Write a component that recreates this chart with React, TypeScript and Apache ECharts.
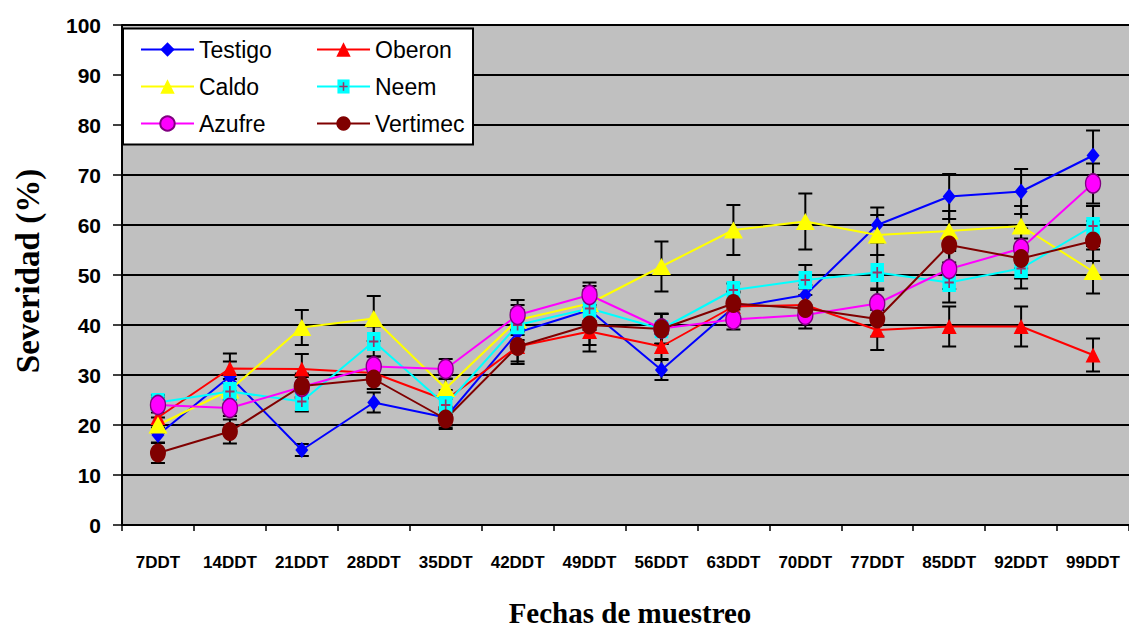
import React, { useEffect, useRef } from "react";
import * as echarts from "echarts";

const categories = ["7DDT", "14DDT", "21DDT", "28DDT", "35DDT", "42DDT", "49DDT", "56DDT", "63DDT", "70DDT", "77DDT", "85DDT", "92DDT", "99DDT"];
const yTicks = [0, 10, 20, 30, 40, 50, 60, 70, 80, 90, 100];

const testigo = [18, 29.7, 15, 24.5, 21.5, 38.5, 43, 31, 43.5, 46, 60, 65.7, 66.7, 73.9];
const oberon = [21.5, 31.3, 31.2, 30.4, 25, 35.7, 38.7, 35.7, 43.7, 44, 39, 39.7, 39.7, 34];
const caldo = [20, 27, 39.5, 41.3, 27.3, 41, 44.3, 51.7, 59, 60.7, 58, 58.8, 59.8, 50.7];
const neem = [24.5, 26.7, 24.7, 36.7, 24, 40, 43.3, 39.2, 47, 49, 50.5, 48.5, 51.3, 59.8];
const azufre = [24, 23.4, 27.6, 31.7, 31.2, 42, 46, 39.3, 41.1, 42, 44.3, 51.2, 55.3, 68.3];
const vertimec = [14.4, 18.7, 27.8, 29.2, 21.2, 35.7, 40, 39.2, 44.3, 43.3, 41.2, 56, 53.3, 56.8];

const errTestigo = [1.5, 3, 1.2, 2, 2, 3, 4, 2, 3, 4, 3.5, 4.5, 4.5, 5];
const errOberon = [1.5, 3, 3, 2, 2, 3, 4, 2.5, 3, 4, 4, 4, 4, 3.3];
const errCaldo = [1.5, 3, 3.5, 4.5, 2, 3, 3.5, 5, 5, 5.6, 4, 4, 4, 4.4];
const errNeem = [1.5, 2.5, 2, 3, 2, 3, 3, 3, 3, 3, 3.5, 4, 4, 4];
const errAzufre = [1.5, 1.6, 2, 2, 2, 3, 2.5, 3, 2, 2, 3, 4, 4, 4];
const errVertimec = [2, 2.4, 2.5, 2, 2, 3.5, 4, 3, 4, 4, 3.5, 4, 4, 4];

const neemSvg =
  '<svg xmlns="http://www.w3.org/2000/svg" width="16" height="19" viewBox="0 0 16 19"><rect width="16" height="19" fill="#00FFFF"/><path d="M8 4V15M2.5 9.5H13.5" stroke="#993366" stroke-width="2" fill="none"/></svg>';
const neemSymbol = "image://data:image/svg+xml;charset=utf-8," + encodeURIComponent(neemSvg);

export default function App() {
  const ref = useRef<HTMLDivElement>(null);

  useEffect(() => {
    document.body.style.margin = "0";
    if (!ref.current) return;
    const chart = echarts.init(ref.current, null, { renderer: "svg" });

    const seriesDefs = [
      { name: "Testigo", data: testigo, err: errTestigo, color: "#0000FF", symbol: "diamond", size: [13, 16], border: "#0000FF" },
      { name: "Oberon", data: oberon, err: errOberon, color: "#FF0000", symbol: "triangle", size: [15, 15], border: "#FF0000" },
      { name: "Caldo", data: caldo, err: errCaldo, color: "#FFFF00", symbol: "triangle", size: [19, 17], border: "#FFFF00" },
      { name: "Neem", data: neem, err: errNeem, color: "#00FFFF", symbol: neemSymbol, size: [16, 19], border: "#00FFFF" },
      { name: "Azufre", data: azufre, err: errAzufre, color: "#FF00FF", symbol: "circle", size: [15, 19], border: "#800080" },
      { name: "Vertimec", data: vertimec, err: errVertimec, color: "#800000", symbol: "circle", size: [16, 19], border: "#800000" },
    ];

    const errData: number[][] = [];
    seriesDefs.forEach((s) => {
      s.data.forEach((v, i) => {
        errData.push([i, v - s.err[i], v + s.err[i]]);
      });
    });

    const lineSeries = seriesDefs.map((s) => ({
      name: s.name,
      type: "line",
      data: s.data,
      symbol: s.symbol,
      symbolSize: s.size,
      z: 3,
      lineStyle: { color: s.color, width: 2 },
      itemStyle: { color: s.color, borderColor: s.border, borderWidth: s.name === "Azufre" ? 1.5 : 0 },
    }));

    const legendText = { fontFamily: "Liberation Sans, Arial, sans-serif", fontSize: 23, color: "#000" };

    chart.setOption({
      animation: false,
      grid: {
        left: 122,
        top: 25,
        right: 0,
        bottom: 107,
        show: true,
        backgroundColor: "#C0C0C0",
        borderWidth: 0,
      },
      legend: [
        {
          orient: "vertical",
          left: 135,
          top: 33,
          itemWidth: 53,
          itemHeight: 18,
          itemGap: 14,
          data: ["Testigo", "Caldo", "Azufre"],
          textStyle: legendText,
          selectedMode: false,
          z: 5,
        },
        {
          orient: "vertical",
          left: 311,
          top: 33,
          itemWidth: 53,
          itemHeight: 18,
          itemGap: 14,
          data: ["Oberon", "Neem", "Vertimec"],
          textStyle: legendText,
          selectedMode: false,
          z: 5,
        },
      ],
      xAxis: {
        type: "category",
        data: categories,
        boundaryGap: true,
        axisLine: { lineStyle: { color: "#000", width: 2 } },
        axisTick: { show: true, length: 6, lineStyle: { color: "#000", width: 1.5 } },
        axisLabel: {
          margin: 29,
          color: "#000",
          fontFamily: "Liberation Sans, Arial, sans-serif",
          fontWeight: "bold",
          fontSize: 17,
          interval: 0,
        },
        splitLine: { show: false },
      },
      yAxis: {
        type: "value",
        min: yTicks[0],
        max: yTicks[yTicks.length - 1],
        interval: 10,
        axisLine: { show: true, lineStyle: { color: "#000", width: 2 } },
        axisTick: { show: true, length: 9, lineStyle: { color: "#000", width: 1.5 } },
        axisLabel: {
          margin: 21,
          color: "#000",
          fontFamily: "Liberation Sans, Arial, sans-serif",
          fontWeight: "bold",
          fontSize: 21,
        },
        splitLine: { show: true, lineStyle: { color: "#000", width: 2 } },
      },
      graphic: [
        {
          type: "rect",
          z: 4,
          shape: { x: 123, y: 28.5, width: 350, height: 116 },
          style: { fill: "#FFFFFF", stroke: "#000", lineWidth: 2 },
        },
        {
          type: "text",
          x: 630,
          y: 613,
          style: {
            text: "Fechas de muestreo",
            font: "bold 29px 'Liberation Serif', 'Times New Roman', serif",
            fill: "#000",
            textAlign: "center",
            textVerticalAlign: "middle",
          },
        },
        {
          type: "text",
          x: 28,
          y: 271,
          rotation: Math.PI / 2,
          style: {
            text: "Severidad (%)",
            font: "bold 33px 'Liberation Serif', 'Times New Roman', serif",
            fill: "#000",
            textAlign: "center",
            textVerticalAlign: "middle",
          },
        },
      ],
      series: [
        {
          type: "custom",
          name: "errors",
          z: 2,
          data: errData,
          encode: { x: 0, y: [1, 2] },
          renderItem: (params: any, api: any) => {
            const x = api.value(0);
            const lo = api.coord([x, api.value(1)]);
            const hi = api.coord([x, api.value(2)]);
            const w = 7;
            const st = { stroke: "#000", lineWidth: 2 };
            return {
              type: "group",
              children: [
                { type: "line", shape: { x1: lo[0], y1: lo[1], x2: hi[0], y2: hi[1] }, style: st },
                { type: "line", shape: { x1: lo[0] - w, y1: lo[1], x2: lo[0] + w, y2: lo[1] }, style: st },
                { type: "line", shape: { x1: hi[0] - w, y1: hi[1], x2: hi[0] + w, y2: hi[1] }, style: st },
              ],
            };
          },
        },
        ...lineSeries,
      ],
    });

    return () => chart.dispose();
  }, []);

  return <div ref={ref} style={{ width: 1129, height: 632 }} />;
}
